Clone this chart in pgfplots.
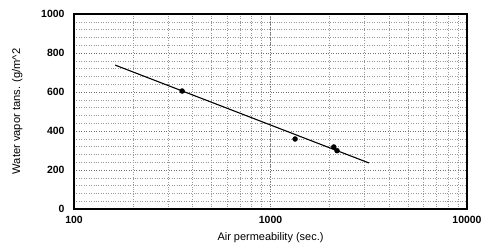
\documentclass[border=0pt]{standalone}
\usepackage{pgfplots}
\pgfplotsset{compat=1.18}
\usepackage{fontspec}
\setmainfont{Liberation Sans}
\begin{document}
\begin{tikzpicture}
\useasboundingbox (-74bp,-36bp) rectangle (413bp,209bp);
\begin{axis}[
  at={(0,0)}, anchor=south west,
  scale only axis,
  width=393bp, height=195bp,
  xmode=log,
  xmin=100, xmax=10000,
  ymin=0, ymax=1000,
  xtick={100,1000,10000},
  xticklabels={\textbf{100},\textbf{1000},\textbf{10000}},
  ytick={0,200,400,600,800,1000},
  yticklabels={\textbf{0},\textbf{200},\textbf{400},\textbf{600},\textbf{800},\textbf{1000}},
  minor y tick num=4,
  grid=both,
  major grid style={black!55, line width=0.5pt, dotted},
  minor grid style={black!40, line width=0.45pt, dotted},
  tick style={draw=none},
  axis line style={black, line width=1.3pt},
  tick label style={font=\fontsize{10.5}{11}\selectfont},
  xlabel={Air permeability (sec.)},
  ylabel={Water vapor tans. (g/m\textasciicircum 2},
  xlabel style={font=\fontsize{11}{12}\selectfont, at={(axis description cs:0.5,0)}, anchor=north, yshift=-20bp},
  ylabel style={font=\fontsize{11.2}{12}\selectfont, at={(axis description cs:0,0.5)}, anchor=south, yshift=48bp},
  xticklabel style={yshift=-4pt},
  yticklabel style={xshift=-6pt},
]
\addplot[black, line width=1.1pt] coordinates {(162,738) (3170,236)};
\addplot[only marks, mark=*, mark size=2.5pt, black] coordinates {
  (355,605) (1334,359) (2100,318) (2180,299)
};
\end{axis}
\end{tikzpicture}
\end{document}
